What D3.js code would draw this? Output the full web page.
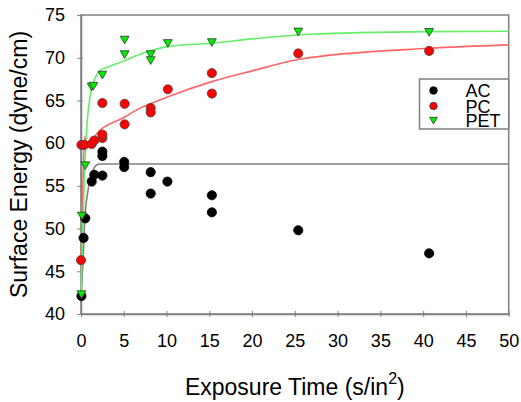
<!DOCTYPE html>
<html>
<head>
<meta charset="utf-8">
<script src="https://cdn.jsdelivr.net/npm/d3@7"></script>
<style>
  body { margin: 0; background: #fff; }
  svg { font-family: Arial, "Liberation Sans", sans-serif; }
</style>
</head>
<body>
<div id="chart"></div>
<script>
// measured points
const acX = [0.05, 0.3, 0.5, 1.25, 1.55, 2.5, 2.5, 2.5, 5.05, 5.05, 8.15, 8.15, 10.1, 15.3, 15.3, 25.4, 40.7];
const acY = [42.1, 48.9, 51.2, 55.5, 56.3, 56.2, 58.5, 59.0, 57.8, 57.2, 56.6, 54.1, 55.5, 53.9, 51.9, 49.8, 47.1];

const pcX = [0, 0.05, 0.4, 1.25, 1.55, 2.5, 2.5, 2.5, 5.1, 5.1, 8.15, 8.15, 10.15, 15.3, 15.3, 25.4, 40.7];
const pcY = [46.3, 59.8, 59.8, 59.9, 60.3, 60.6, 61.0, 64.7, 64.6, 62.2, 64.1, 63.6, 66.3, 68.2, 65.8, 70.5, 70.8];

const petX = [0.05, 0.1, 0.5, 1.25, 1.45, 2.5, 5.1, 5.1, 8.15, 8.15, 10.15, 15.3, 25.4, 40.7];
const petY = [42.3, 51.5, 57.4, 66.6, 66.7, 68.0, 72.1, 70.4, 70.4, 69.7, 71.7, 71.8, 73.05, 73.0];

// fitted curves
const acFitX = [0, 0.2, 0.47, 0.75, 1.05, 1.4, 1.83, 2.3, 3, 50];
const acFitY = [42, 45.5, 51.6, 54, 55.7, 56.8, 57.45, 57.55, 57.56, 57.56];

const pcFitX = [0, 0.25, 0.45, 0.6, 1, 2.2, 5, 6.9, 8.1, 10.1, 15.3, 19.8, 25.4, 40.7, 50];
const pcFitY = [45.5, 56, 60.8, 60.1, 60.2, 61.5, 63, 64.1, 64.6, 65.4, 67.2, 68.4, 69.8, 71.1, 71.5];

const petFitX = [0, 0.2, 0.47, 0.74, 1.05, 1.64, 2.2, 3.4, 4.95, 6.9, 8.1, 10.1, 15.3, 20, 26.8, 40.7, 50];
const petFitY = [42.2, 50, 58, 62.7, 65.4, 67.6, 68.5, 69.0, 69.6, 70.4, 70.8, 71.3, 71.7, 72.2, 72.75, 73.05, 73.1];

const xTicks = [0, 5, 10, 15, 20, 25, 30, 35, 40, 45, 50];
const yTicks = [40, 45, 50, 55, 60, 65, 70, 75];
const seriesNames = ['AC', 'PC', 'PET'];

const width = 521, height = 402;
const mLeft = 81, mRight = 508.7, mTop = 15, mBottom = 314;

const svg = d3.select('#chart').append('svg')
    .attr('width', width)
    .attr('height', height);

const x = d3.scaleLinear().domain([0, 50]).range([mLeft, mRight]);
const y = d3.scaleLinear().domain([40, 75]).range([mBottom, mTop]);

const axisColor = '#808080';

// frame
svg.append('rect')
    .attr('x', mLeft).attr('y', mTop)
    .attr('width', mRight - mLeft).attr('height', mBottom - mTop)
    .attr('fill', 'none')
    .attr('stroke', axisColor)
    .attr('stroke-width', 1.5);

const xAxis = svg.append('g')
    .attr('transform', `translate(0,${mBottom})`)
    .call(d3.axisBottom(x).tickValues(xTicks).tickSize(3).tickSizeOuter(0));
xAxis.selectAll('.tick line').attr('y1', -3).attr('y2', 3);
xAxis.selectAll('.tick text')
    .attr('y', 20)
    .attr('dy', '0.71em')
    .attr('font-size', 18)
    .attr('fill', '#000');

const yAxis = svg.append('g')
    .attr('transform', `translate(${mLeft},0)`)
    .call(d3.axisLeft(y).tickValues(yTicks).tickSize(3).tickSizeOuter(0));
yAxis.selectAll('.tick line').attr('x1', -4).attr('x2', 2);
yAxis.selectAll('.tick text')
    .attr('x', -16)
    .attr('font-size', 18)
    .attr('fill', '#000');

[xAxis, yAxis].forEach(g => {
    g.select('.domain').attr('stroke', axisColor).attr('stroke-width', 1.5);
    g.selectAll('.tick line').attr('stroke', axisColor);
});

// fit lines
const line = d3.line()
    .x(d => x(d[0]))
    .y(d => y(d[1]))
    .curve(d3.curveMonotoneX);

const fits = [
    {xs: acFitX, ys: acFitY, color: '#808080'},
    {xs: pcFitX, ys: pcFitY, color: '#ff6666'},
    {xs: petFitX, ys: petFitY, color: '#66ee66'}
];
fits.forEach(f => {
    svg.append('path')
        .datum(f.xs.map((v, i) => [v, f.ys[i]]))
        .attr('d', line)
        .attr('fill', 'none')
        .attr('stroke', f.color)
        .attr('stroke-width', 1.6);
});

// points
const tri = d3.symbol().type(d3.symbolTriangle).size(34);

function drawCircles(xs, ys, fill, stroke) {
    svg.append('g')
        .selectAll('circle')
        .data(xs.map((v, i) => [v, ys[i]]))
        .enter().append('circle')
        .attr('cx', d => x(d[0]))
        .attr('cy', d => y(d[1]))
        .attr('r', 4.6)
        .attr('fill', fill)
        .attr('stroke', stroke)
        .attr('stroke-width', 0.8);
}

drawCircles(acX, acY, '#000', '#000');
drawCircles(pcX, pcY, '#ff0000', '#444');

svg.append('g')
    .selectAll('path')
    .data(petX.map((v, i) => [v, petY[i]]))
    .enter().append('path')
    .attr('d', tri)
    .attr('transform', d => `translate(${x(d[0])},${y(d[1]) - 1}) rotate(180)`)
    .attr('fill', '#00ee00')
    .attr('stroke', '#333')
    .attr('stroke-width', 0.8);

// legend
const legend = svg.append('g');
legend.append('rect')
    .attr('x', 419.5).attr('y', 79)
    .attr('width', mRight - 419.5).attr('height', 50)
    .attr('fill', '#fff')
    .attr('stroke', axisColor)
    .attr('stroke-width', 1.5);

const legendY = [90.5, 106, 120.5];
seriesNames.forEach((name, i) => {
    if (i < 2) {
        legend.append('circle')
            .attr('cx', 433.5).attr('cy', legendY[i])
            .attr('r', 3.8)
            .attr('fill', i === 0 ? '#000' : '#ff0000')
            .attr('stroke', i === 0 ? '#000' : '#444')
            .attr('stroke-width', 0.8);
    } else {
        legend.append('path')
            .attr('d', d3.symbol().type(d3.symbolTriangle).size(26))
            .attr('transform', `translate(433.5,${legendY[i] - 1}) rotate(180)`)
            .attr('fill', '#00ee00')
            .attr('stroke', '#333')
            .attr('stroke-width', 0.8);
    }
    legend.append('text')
        .attr('x', 465.5)
        .attr('y', legendY[i] + 6.5)
        .attr('font-size', 18)
        .text(name);
});

// axis titles
const xt = svg.append('text')
    .attr('x', (mLeft + mRight) / 2)
    .attr('y', 395)
    .attr('text-anchor', 'middle')
    .attr('font-size', 23);
xt.append('tspan').text('Exposure Time (s/in');
xt.append('tspan').attr('font-size', 16).attr('dy', -11).text('2');
xt.append('tspan').attr('dy', 11).text(')');

svg.append('text')
    .attr('transform', `translate(27,${(mTop + mBottom) / 2}) rotate(-90)`)
    .attr('text-anchor', 'middle')
    .attr('font-size', 23)
    .text('Surface Energy (dyne/cm)');
</script>
</body>
</html>
